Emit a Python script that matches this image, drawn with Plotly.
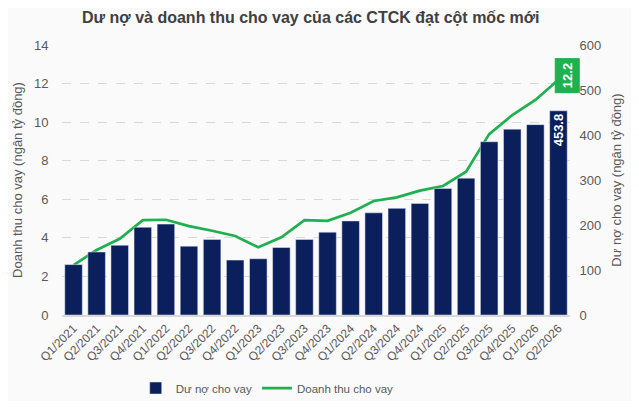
import plotly.graph_objects as go

# quy va gia tri doc tu hinh
quarters = ["Q1/2021", "Q2/2021", "Q3/2021", "Q4/2021", "Q1/2022", "Q2/2022",
            "Q3/2022", "Q4/2022", "Q1/2023", "Q2/2023", "Q3/2023", "Q4/2023",
            "Q1/2024", "Q2/2024", "Q3/2024", "Q4/2024", "Q1/2025", "Q2/2025",
            "Q3/2025", "Q4/2025", "Q1/2026", "Q2/2026"]

du_no = [112, 140, 155, 195, 202, 153, 168, 122, 125, 150, 168, 184,
         209, 227, 237, 248, 281, 304, 385, 413, 423, 453.8]

doanh_thu = [2.59, 3.37, 3.95, 4.92, 4.94, 4.61, 4.37, 4.10, 3.51, 4.03, 4.92, 4.88,
             5.30, 5.91, 6.10, 6.45, 6.69, 7.43, 9.38, 10.37, 11.15, 12.2]

navy = "#0b1f5c"
green = "#1fb04f"
font = "Liberation Sans, Arial"

bar_text = [""] * (len(du_no) - 1) + ["<b>%.1f</b>" % du_no[-1]]

fig = go.Figure()
fig.add_trace(go.Bar(
    x=quarters, y=du_no, name="Dư nợ cho vay", yaxis="y2",
    marker=dict(color=navy),
    text=bar_text, textposition="inside", insidetextanchor="end",
    textangle=-90, textfont=dict(color="white", size=13, family=font),
))
fig.add_trace(go.Scatter(
    x=quarters, y=doanh_thu, name="Doanh thu cho vay", mode="lines",
    line=dict(color=green, width=2.7),
))

# nhan xanh cho diem cuoi
fig.add_annotation(
    x=quarters[-1], y=doanh_thu[-1], xref="x", yref="y",
    text="<b>%.1f</b>" % doanh_thu[-1], textangle=-90, showarrow=False,
    xshift=9, yshift=4, bgcolor=green, bordercolor=green, borderpad=4,
    font=dict(color="white", size=13, family=font),
)

# body co le 8px -> hinh nho lai de vua cua so 639x409
fig.update_layout(
    width=623, height=393,
    margin=dict(l=54, r=61, t=37, b=86, autoexpand=False),
    paper_bgcolor="#fafafa", plot_bgcolor="#fafafa",
    font=dict(family=font, color="#595959", size=12),
    title=dict(text="<b>Dư nợ và doanh thu cho vay của các CTCK đạt cột mốc mới</b>",
               x=0.486, xanchor="center", y=0.975, yanchor="middle",
               font=dict(size=16, color="#404040")),
    bargap=0.24,
    uniformtext=dict(minsize=13, mode="show"),
    showlegend=True,
    legend=dict(orientation="h", xref="container", x=0.205, xanchor="left",
                yref="container", y=0.033, yanchor="middle",
                font=dict(size=11.5, color="#595959"), traceorder="normal",
                itemwidth=30),
    xaxis=dict(tickangle=-45, tickfont=dict(size=12), showgrid=False,
               range=[-0.5, len(quarters) - 0.5],
               showline=True, linecolor="#d9d9d9", linewidth=1.5, ticks="",
               automargin=False),
    yaxis=dict(range=[0, 14], dtick=2, showgrid=True, gridcolor="#d9d9d9",
               griddash="dash", zeroline=False, tickfont=dict(size=13),
               ticks="outside", ticklen=10, tickcolor="rgba(0,0,0,0)",
               automargin=False,
               title=dict(text="Doanh thu cho vay (ngân tỷ đồng)", font=dict(size=13),
                          standoff=8)),
    yaxis2=dict(range=[0, 600], dtick=100, overlaying="y", side="right",
                showgrid=False, zeroline=False, tickfont=dict(size=13),
                ticks="outside", ticklen=6, tickcolor="rgba(0,0,0,0)",
                automargin=False,
                title=dict(text="Dư nợ cho vay (ngân tỷ đồng)", font=dict(size=13),
                           standoff=11)),
)

fig.write_html("out.html")
